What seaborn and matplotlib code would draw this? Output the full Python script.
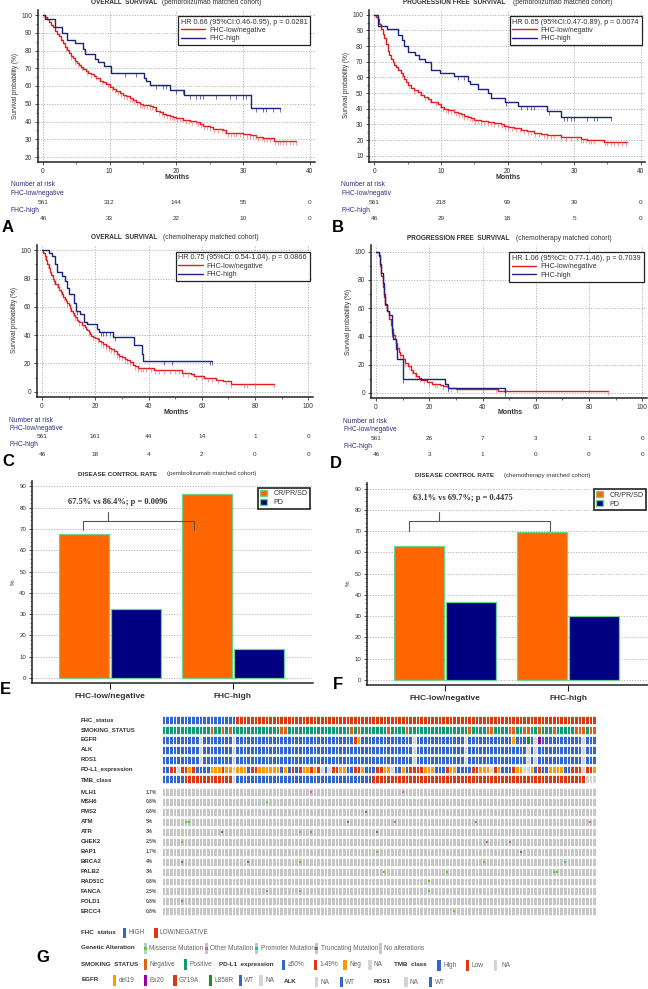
import numpy as np
import pandas as pd
import matplotlib
matplotlib.use("Agg")
import matplotlib.pyplot as plt
from matplotlib.colors import ListedColormap
from matplotlib.lines import Line2D
from matplotlib.patches import Patch, Rectangle
from matplotlib.ticker import MultipleLocator
import seaborn as sns

# ---------- survival data: (months, survival %) ----------
a_low = [(0,100),(.3,99),(.6,97.5),(.9,96),(1.2,94.5),(1.5,93),(1.8,91),(2.1,89.5),(2.4,88),(2.7,86),(3,84),(3.3,82),(3.6,80.5),(3.9,78.5),(4.2,77),(4.5,75.5),(4.8,74),(5.1,73),(5.4,72),(5.7,70.5),(6,69.5),(6.4,68.5),(6.8,67.5),(7.2,66.5),(7.6,65.5),(8,64.5),(8.5,63),(9,62),(9.5,61),(10,59.5),(10.5,58.5),(11,57),(11.5,56),(12,55),(12.5,54.5),(13,53.5),(13.5,52),(14,51),(14.5,50),(15,49.5),(16,48.8),(16.5,48),(17,46),(17.5,45.5),(18,44.5),(18.5,43.7),(19,43),(19.5,42.5),(20,42),(21,41),(22,40.5),(23,39.5),(23.5,38.5),(24,37.5),(25,37),(25.5,36),(26,35.5),(27,35),(27.5,33.5),(30,33),(31,32.5),(32,31),(33,30.5),(34.7,29),(38,29)]
a_low_c = [3.5,4.2,4.8,5.3,5.9,6.6,7.2,7.9,8.8,9.7,10.3,10.8,11.2,11.7,12.2,12.6,13,13.3,13.7,14.1,14.5,14.9,15.2,15.6,16,16.3,16.8,17.4,17.8,18.2,18.6,19,19.4,19.7,20.1,20.5,20.9,21.4,21.9,22.4,22.9,23.3,23.7,24.1,24.6,25.1,25.6,26.2,26.8,27.3,27.8,28.2,28.6,29,29.5,30,30.6,31.1,31.5,31.9,32.3,32.8,33.2,33.6,34,34.8,35.2,35.6,36,36.5,37,37.5,38]
a_high = [(0,100),(.3,97.5),(1.8,93),(2.8,89.6),(3.6,86),(4.8,84),(6,81),(6.3,78),(7.8,75),(8.2,73.5),(9.2,71),(10.2,67.5),(15.1,64.5),(15.4,63),(16,60.5),(19,57.5),(21.2,55),(31.2,47.5),(35.5,47.5)]
a_high_c = [12.3,14,17,18,18.5,20,21,22,23,23.5,24,26,28,29,30,30.5,32,33,33.5,34.5,35.5]

b_low = [(0,100),(.25,98.5),(.5,97),(.75,94),(1,91),(1.25,88),(1.5,85),(1.75,81),(2,77),(2.25,74.5),(2.5,72),(2.75,70),(3,68),(3.25,66.5),(3.5,65),(4,63),(4.25,61),(4.5,59),(4.75,57),(5,55),(5.5,53.5),(6,52),(6.5,50.5),(7,49),(7.5,47.5),(8,46),(8.5,44),(9.5,43),(10,41),(10.5,40),(11,39),(12,38),(12.5,37),(13,36.5),(13.5,35.5),(14,35),(14.5,34),(15,33),(16,32),(17,31.2),(18,31),(19,30),(19.5,29.2),(20,28.5),(21,27.5),(22,26.5),(23,25.5),(24,24.5),(25,24),(26,23),(28,22),(30,21.8),(31,20.5),(32,20),(34.5,18.5),(38,18.5)]
b_low_c = [4.2,5.2,6,6.8,7.6,8.4,9.2,9.8,10.3,10.7,11.1,11.5,11.9,12.3,12.7,13.1,13.5,13.9,14.3,14.7,15.1,15.6,16,16.5,17,17.5,18,18.6,19.1,19.6,20.1,20.7,21.3,21.9,22.5,23.1,23.6,24.2,24.7,25.5,26,26.5,27,28,28.8,29.5,30.5,31,31.4,31.8,32.2,32.6,33,34.6,35,35.5,36,36.6,37.2,37.8]
b_high = [(0,100),(.6,93),(1.95,91),(3.5,87),(4.1,84),(4.4,80),(5,76),(6.1,74),(6.7,71.5),(7.6,69.5),(8.5,65),(9.8,63),(12,61),(14,58),(14.4,55.5),(15.6,52.5),(17.1,50),(17.5,47),(19.6,44.5),(21.6,41.5),(26,38.7),(28.1,34.5),(35.6,34.5)]
b_high_c = [12.5,13.5,19.7,22,23,23.5,24,26.2,28.5,29,29.5,30,32,33,33.5,35.6]

c_low = [(0,100),(.5,98),(1,96),(1.5,93),(2,90),(2.5,87.5),(3,85),(3.5,82.5),(4,80),(4.5,78),(5,76),(6,74),(6.5,72),(7,70.5),(7.5,69),(8,67),(8.5,65.5),(9,64),(9.5,62.5),(10,61),(10.5,59),(11,57),(11.5,55.5),(12,54),(12.5,52.5),(13,51),(13.5,50),(14,49),(15,47),(16,45.5),(16.5,44.5),(17,43.5),(17.5,42),(18,41),(18.5,39.5),(19,38.5),(20,38),(21,37),(21.5,36),(22,35),(23,33.5),(24,32.5),(25,31),(26,30),(27,28.5),(28,27),(29,25.5),(30,24.5),(31,23),(32,22.5),(33,21),(34,19),(35,18),(36,17),(40,16.5),(42,15.5),(44,15),(52.5,13.5),(56,12.5),(57,11),(61,9.5),(65.5,8),(68,7.3),(71,5.3),(87,5.3)]
c_low_c = [1,2.4,4.5,5.5,6.3,7,8.2,9.5,10.5,11.5,12.5,14,15.5,17.5,19,21,22,23,24,25,26,27,28,29,30,31,32,33,35,36,37,38,39,41,42.5,44,46,48,50,51.5,53,55,58,60,62.5,64,66,69,71,76,77,80,87]
c_high = [(0,100),(2.8,98),(3.6,96),(4.9,90),(5.8,85),(7.4,82),(8.6,78),(9.3,73),(10.3,69),(12,63),(12.8,57),(14.3,55),(15.8,49.5),(17,48),(20.8,44),(21.3,42),(26.8,39),(34.5,33),(37.4,27),(38,22),(64,22)]
c_high_c = [13,22,23,24,25.5,27.5,46,49,63,64]

d_low = [(0,100),(1,97),(1.5,90),(2,83),(2.5,75),(3,68),(3.5,62),(4,58),(5,52),(5.5,48),(6,45),(6.5,41),(7,38),(7.5,35),(8,32),(8.5,29),(9,27),(10,24),(11,21),(12,19),(13,16),(14,14),(15,12),(16,10.5),(17,9),(19,7.5),(21,6.5),(24,5.5),(25,4.5),(27,3.5),(30,2.7),(46,1.5),(87,1.5)]
d_low_c = [6.5,7.5,9,11,12.5,13.5,14.5,15.5,16.5,18,20,22,23,25,28,30.5,40,45,87]
d_high = [(0,100),(1,98),(1.5,91),(2,85),(2.5,78),(3,70),(3.5,63),(4,58),(5,55),(6,42),(6.5,38),(7.5,31),(8,24),(10,9.5),(26,6),(27,3),(48.5,0.3),(48.6,0.3)]
d_high_c = [6,10,27,48.5]

risk_a_low = [561, 312, 144, 55, 0]
risk_a_high = [46, 33, 22, 10, 0]
risk_b_low = [561, 218, 99, 39, 0]
risk_b_high = [46, 29, 18, 5, 0]
risk_c_low = [561, 161, 44, 14, 1, 0]
risk_c_high = [46, 18, 4, 2, 0, 0]
risk_d_low = [561, 26, 7, 3, 1, 0]
risk_d_high = [46, 3, 1, 0, 0, 0]

# ---------- bar data ----------
groups = ["FHC-low/negative", "FHC-high"]
responses = ["CR/PR/SD", "PD"]
e_crpr = [67.5, 86.4]
e_pd = [32.5, 13.6]
f_crpr = [63.1, 69.7]
f_pd = [36.9, 30.3]

# ---------- oncoprint data ----------
track_names = ["FHC_status", "SMOKING_STATUS", "EGFR", "ALK", "ROS1", "PD-L1_expression", "TMB_class"]
gene_names = ["MLH1", "MSH6", "PMS2", "ATM", "ATR", "CHEK2", "BAP1", "BRCA2", "PALB2", "RAD51C", "FANCA", "POLD1", "ERCC4"]
gene_pct = ["1.7%", "0.8%", "0.8%", "5%", "3%", "2.5%", "1.7%", "4%", "3%", "0.8%", "2.5%", "0.8%", "0.8%"]
n_samples = 118
smoking_neg = [13,16,18,32,33,51,53,61,66,83,88,89,94,95,98,99,102,106,112,113,114,116,117]
egfr_special = {10:"A",19:"A",68:"A",82:"A",101:"A",114:"A",52:"R",53:"O",95:"O",99:"G",102:"P"}
alk_na = [10,19,68,82,99,101,114]
ros1_na = [10,19,68,82,99,101,114]
pdl1 = ("BBRRARRNRBBBBNNNRNNANNNBRRNNNNNNBNBRBRNNRNRABARR"[:48]
        + "NNBBRRNBBBRRNNABBNBRRRRNNNBBBRNNBBBBRRNNNARNBBBRNNAANBRBBNNNNBBRRRARRN")
tmb = "B"*6 + "R"*13 + "A" + "B"*37 + "R"*58 + "A"*3
missense = {"MSH6":[28],"ATM":[6,7],"ATR":[37],"CHEK2":[5],"BAP1":[58],"BRCA2":[37,87],"PALB2":[60,77,106,107],"RAD51C":[72],"FANCA":[37,72],"ERCC4":[79]}
other = {"MLH1":[40,65],"ATM":[63,85,116],"ATR":[40],"CHEK2":[88,94],"FANCA":[28],"POLD1":[5]}
promoter = {"BRCA2":[109]}
truncating = {"PMS2":[55],"ATM":[50],"ATR":[16,58],"BAP1":[97],"BRCA2":[5,23]}

RED, BLUE = "#e41a1c", "#1a237e"
W, H = 648, 989
sns.set_theme(style="white")
plt.rcParams["font.family"] = ["Liberation Sans", "DejaVu Sans"]
plt.rcParams["axes.linewidth"] = 1.0
fig = plt.figure(figsize=(W/100, H/100), dpi=100, facecolor="white")
TXT = "#333333"

def px_axes(l, t, r, b):
    return fig.add_axes([l/W, 1-b/H, (r-l)/W, (b-t)/H])

ov = fig.add_axes([0, 0, 1, 1], zorder=20)
ov.set_xlim(0, W); ov.set_ylim(H, 0); ov.axis("off"); ov.patch.set_alpha(0)

def T(x, y, s, size=4.6, weight="normal", color=TXT, ha="left", **kw):
    ov.text(x, y, s, fontsize=size, fontweight=weight, color=color, ha=ha, va="center", **kw)

def step_at(t, s, c):
    t = np.asarray(t); s = np.asarray(s)
    return s[np.clip(np.searchsorted(t, c, side="right")-1, 0, len(s)-1)]

def survival(box, xcal, ycal, xmax, xstep, ymajor, yminor, low, high, labels, hr, legbox,
             risk_low, risk_high, risk_y, lab_x, title, title_x, title_x2, title_y,
             months_y, months_x, ylab_x, ylab_y, letter):
    l, t, r, b = box
    ax = px_axes(l, t, r, b)
    x0, x1 = xcal; (yv1, ypx1), (yv2, ypx2) = ycal
    kx = xmax/(x1-x0); ky = (yv1-yv2)/(ypx2-ypx1)
    ax.set_xlim((l-x0)*kx, (r-x0)*kx)
    ax.set_ylim(yv1-(b-ypx1)*ky, yv1+(ypx1-t)*ky)
    for (pts, cc), col, lab in zip((low, high), (RED, BLUE), labels):
        tt, ss = map(np.asarray, zip(*pts))
        sns.lineplot(x=tt, y=ss, ax=ax, color=col, lw=1.0, drawstyle="steps-post",
                     estimator=None, errorbar=None, label=lab, legend=False)
        ax.plot(cc, step_at(tt, ss, np.asarray(cc)), ls="none", marker=3, ms=2.6, mew=0.45,
                color="#f06a6a" if col == RED else col)
    sns.despine(ax=ax)
    for s in ("left", "bottom"):
        ax.spines[s].set_color("#222222"); ax.spines[s].set_linewidth(1.1)
    ax.xaxis.set_major_locator(MultipleLocator(xstep))
    ax.xaxis.set_minor_locator(MultipleLocator(xstep/2))
    ax.yaxis.set_major_locator(MultipleLocator(ymajor))
    ax.yaxis.set_minor_locator(MultipleLocator(yminor))
    ax.grid(True, which="major", color="#a0a0a0", lw=0.55, ls=(0, (1.5, 2)))
    ax.tick_params(axis="both", which="major", length=2.5, width=0.6, labelsize=4.7,
                   colors=TXT, pad=1.5, bottom=True, left=True)
    ax.tick_params(axis="both", which="minor", length=1.5, width=0.5, bottom=True, left=True, color=TXT)
    ax.set_xlabel(""); ax.set_ylabel("")
    handles = [Line2D([], [], color=RED, lw=1.0), Line2D([], [], color=BLUE, lw=1.0)]
    leg = ax.legend(handles, labels, title=hr, title_fontsize=5.2, fontsize=5.1, loc="upper left",
                    bbox_to_anchor=(legbox[0]/W, 1-legbox[1]/H), bbox_transform=fig.transFigure,
                    borderaxespad=0, fancybox=False, framealpha=1, edgecolor="#222222",
                    alignment="left", labelcolor=TXT, handlelength=3.4, handletextpad=0.6,
                    labelspacing=0.18, borderpad=0.42)
    leg.get_frame().set_linewidth(0.9)
    leg.get_title().set_color(TXT)
    leg.set_zorder(10)
    # number at risk table
    ticks = [xstep*i for i in range(len(risk_low))]
    T(lab_x, risk_y[0], "Number at risk", size=4.9, color="#303080")
    T(lab_x, risk_y[1], labels[0], size=4.9, color="#303080")
    T(lab_x, risk_y[3], "FHC-high", size=4.9, color="#303080")
    for tk, a, c in zip(ticks, risk_low, risk_high):
        T(x0+tk/kx, risk_y[2], str(a), ha="center")
        T(x0+tk/kx, risk_y[4], str(c), ha="center")
    T(title_x, title_y, title[0], size=4.7, weight="bold")
    T(title_x2, title_y, title[1], size=4.9)
    T(months_x, months_y, "Months", size=5, weight="bold", ha="center")
    T(ylab_x, ylab_y, "Survival probability (%)", size=4.7, ha="center", rotation=90)
    T(letter[1], letter[2], letter[0], size=12, weight="bold", color="black")
    return ax

labs = ["FHC-low/negative", "FHC-high"]
survival((37.7, 10, 315, 162.3), (43, 309.5), ((100, 15), (20, 157)), 40, 10, 10, 5,
         (a_low, a_low_c), (a_high, a_high_c), labs,
         "HR 0.66 (95%CI:0.46-0.95), p = 0.0281", (177.7, 15.7), risk_a_low, risk_a_high,
         (185, 193.3, 202, 210, 218.7), 10.7, ("OVERALL  SURVIVAL", "(pembrolizumab matched cohort)"),
         90.7, 162.3, 3, 177.3, 176.7, 15.7, 85.7, ("A", 2, 228))
survival((369, 10, 645, 162.3), (374.3, 640.7), ((100, 14.7), (10, 155.7)), 40, 10, 10, 5,
         (b_low, b_low_c), (b_high, b_high_c), ["FHC-low/negativ", "FHC-high"],
         "HR 0.65 (95%CI:0.47-0.89), p = 0.0074", (509.5, 15.7), risk_b_low, risk_b_high,
         (185, 193.3, 202, 210, 218.7), 341, ("PROGRESSION FREE  SURVIVAL", "(pembrolizumab matched cohort)"),
         402.7, 513.3, 3, 177.3, 508, 346.7, 85, ("B", 332, 228))
survival((36.7, 245, 313, 397.3), (42, 308.3), ((100, 250.3), (0, 391.7)), 100, 20, 20, 10,
         (c_low, c_low_c), (c_high, c_high_c), labs,
         "HR 0.75 (95%CI: 0.54-1.04), p = 0.0866", (175.5, 251.5), risk_c_low, risk_c_high,
         (420, 428, 437, 445, 454), 9, ("OVERALL  SURVIVAL", "(chemotherapy matched cohort)"),
         90.7, 163.3, 237.7, 412, 176, 14.3, 320, ("C", 2, 461))
survival((370.7, 245, 646.7, 398.3), (376, 642.3), ((100, 251.7), (0, 392.7)), 100, 20, 20, 10,
         (d_low, d_low_c), (d_high, d_high_c), labs,
         "HR 1.06 (95%CI: 0.77-1.46), p = 0.7039", (509, 252), risk_d_low, risk_d_high,
         (421.7, 429.7, 438.3, 446.7, 455), 343, ("PROGRESSION FREE  SURVIVAL", "(chemotherapy matched cohort)"),
         406.7, 515.7, 239, 413, 510, 349, 321.7, ("D", 330, 464))


def bars(box, tick_px, ycal, crpr, pd_, legpos, txt, txtpos, bracket, title, tx, tx2, ty, xl_y, ylab, letter):
    l, t, r, b = box
    ax = px_axes(l, t, r, b)
    df = pd.DataFrame({"group": groups*2,
                       "response": [responses[0]]*2 + [responses[1]]*2,
                       "pct": list(crpr)+list(pd_)})
    sns.barplot(data=df, x="group", y="pct", hue="response", ax=ax, width=0.84, gap=0.04,
                palette=["#ff6600", "#000080"], edgecolor="#6fcf8f", linewidth=0.9,
                saturation=1, legend=False, zorder=3)
    px_per = tick_px[1]-tick_px[0]
    ax.set_xlim((l-tick_px[0])/px_per, (r-tick_px[0])/px_per)
    (y0px, y90px) = ycal
    ky = 90/(y0px-y90px)
    ax.set_ylim(-(b-y0px)*ky, (y0px-t)*ky)
    sns.despine(ax=ax)
    for s in ("left", "bottom"):
        ax.spines[s].set_color("#222222"); ax.spines[s].set_linewidth(1.1)
    ax.yaxis.set_major_locator(MultipleLocator(10))
    ax.yaxis.set_minor_locator(MultipleLocator(2))
    ax.grid(True, axis="y", which="major", color="#a0a0a0", lw=0.55, ls=(0, (1.5, 2)))
    ax.set_axisbelow(True)
    ax.tick_params(axis="y", which="major", length=2.5, width=0.6, labelsize=4.4, colors=TXT, pad=1.5, left=True)
    ax.tick_params(axis="y", which="minor", length=1.3, width=0.4, left=True, color=TXT)
    ax.tick_params(axis="x", length=4, width=0.8, color="#222222", labelsize=6, pad=3, bottom=True, labelcolor=TXT)
    for lb in ax.get_xticklabels():
        lb.set_fontweight("bold")
    ax.set_xlabel(""); ax.set_ylabel("")
    leg = ax.legend([Patch(facecolor="#ff6600", edgecolor="#6fcf8f"), Patch(facecolor="#000080", edgecolor="#6fcf8f")],
                    responses, fontsize=5.1, loc="upper left", bbox_to_anchor=(legpos[0]/W, 1-legpos[1]/H),
                    bbox_transform=fig.transFigure, borderaxespad=0, fancybox=False, framealpha=1,
                    edgecolor="#222222", labelcolor=TXT, handlelength=1.0, handleheight=0.95,
                    handletextpad=0.9, labelspacing=0.2, borderpad=0.32)
    leg.get_frame().set_linewidth(1.2)
    leg.set_zorder(10)
    xl, xr, ybot, ytop, xs, ystem = bracket
    ax.plot([xl, xl, xr, xr], [ybot, ytop, ytop, ybot], color="#555555", lw=0.8, zorder=5, clip_on=False)
    ax.plot([xs, xs], [ytop, ystem], color="#555555", lw=0.8, zorder=5)
    T(txtpos[0], txtpos[1], txt, size=6, weight="bold", family="Liberation Serif", ha="center")
    T(tx, ty, title[0], size=4.6, weight="bold")
    T(tx2, ty, title[1], size=4.4)
    T(ylab[0], ylab[1], "%", size=4.5, ha="center", rotation=90)
    T(letter[1], letter[2], letter[0], size=12, weight="bold", color="black")

bars((31.8, 480.7, 312.8, 683.3), (110, 233), (678, 486.3), e_crpr, e_pd, (258, 487.7),
     "67.5% vs 86.4%; p = 0.0096", (117.8, 501.7), (-0.22, 0.68, 69.5, 73.9, -0.02, 78.1),
     ("DISEASE CONTROL RATE", "(pembrolizumab matched cohort)"), 78.5, 167, 474, 693.3, (13.6, 581.7), ("E", 0, 689))
bars((367, 482.7, 648, 685.3), (445, 568), (680, 488.7), f_crpr, f_pd, (594, 489),
     "63.1% vs 69.7%; p = 0.4475", (463, 498.3), (-0.295, 0.85, 70, 74.8, -0.046, 79.2),
     ("DISEASE CONTROL RATE", "(chemotherapy matched cohort)"), 415, 504, 475.7, 695, (348, 583.3), ("F", 332.5, 684.3))

# ---------- oncoprint ----------
code = {"B": 0, "R": 1, "T": 2, "S": 3, "N": 4, "A": 5, "G": 6, "P": 7, "O": 8}
cmap = ListedColormap(["#3366cc", "#dc3912", "#139a75", "#dd6216", "#ff9900", "#d4d4d4", "#109618", "#990099", "#ff9900"])
fhc = "B"*20 + "R"*98
smoke = "".join("S" if i in smoking_neg else "T" for i in range(n_samples))
egfr = "".join(egfr_special.get(i, "B") for i in range(n_samples))
alk = "".join("A" if i in alk_na else "B" for i in range(n_samples))
ros1 = "".join("A" if i in ros1_na else "B" for i in range(n_samples))
tracks = [fhc, smoke, egfr, alk, ros1, pdl1, tmb]
mat = np.array([[code[c] for c in row] for row in tracks])

ax1 = px_axes(161.7, 715.03, 596, 784.3)
sns.heatmap(mat, ax=ax1, cmap=cmap, vmin=-0.5, vmax=8.5, cbar=False, linewidths=0.55, linecolor="white",
            xticklabels=False, yticklabels=False)
ax1.hlines(np.arange(len(tracks)+1), 0, n_samples, color="white", lw=1.9)

ax2 = px_axes(161.7, 787.03, 596, 916.3)
sns.heatmap(np.zeros((len(gene_names), n_samples)), ax=ax2, cmap=ListedColormap(["#c6c6c6"]), cbar=False,
            linewidths=0.55, linecolor="white", xticklabels=False, yticklabels=False)
ax2.hlines(np.arange(len(gene_names)+1), 0, n_samples, color="white", lw=1.9)
for muts, col in ((missense, "#4fd619"), (other, "#e052c8"), (promoter, "#17becf"), (truncating, "#667788")):
    xs, ys = [], []
    for g, cols in muts.items():
        for c in cols:
            xs.append(c+0.5); ys.append(gene_names.index(g)+0.5)
    ax2.scatter(xs, ys, marker="s", s=3.2, color=col, linewidths=0, zorder=5)

for i, n in enumerate(track_names):
    T(80.7, 720+i*9.94, n, size=4.3, weight="bold")
for i, (n, p) in enumerate(zip(gene_names, gene_pct)):
    T(80.7, 792+i*9.94, n, size=4.3, weight="bold")
    T(146, 792+i*9.94, p, size=3.5, weight="bold", color="#555555")

# ---------- oncoprint key ----------
LG = "#666666"
def key(x, yc, color, text, tx, marker=None, h=10.5, w=3.2):
    ov.add_patch(Rectangle((x, yc-h/2), w, h, facecolor=color, edgecolor="none"))
    if marker:
        ov.add_patch(Rectangle((x, yc-1.6), w, 3.2, facecolor=marker, edgecolor="none"))
    T(tx, yc, text, size=4.7, color=LG)

T(80.7, 932.7, "FHC  status", size=4.5, weight="bold")
key(123, 933, "#3366cc", "HIGH", 128.3)
key(154.3, 933, "#dc3912", "LOW/NEGATIVE", 159.7)
T(80.7, 947.7, "Genetic Alteration", size=4.5, weight="bold")
GR = "#c6c6c6"
key(143.7, 948.5, GR, "Missense Mutation", 149.3, marker="#4fd619")
key(204.7, 948.5, GR, "Other Mutation", 210.3, marker="#e052c8")
key(255, 948.5, GR, "Promoter Mutation", 260.7, marker="#17becf")
key(314.7, 948.5, GR, "Truncating Mutation", 320.7, marker="#667788")
key(378.7, 948.5, GR, "No alterations", 384)
T(80.7, 964, "SMOKING  STATUS", size=4.5, weight="bold")
key(143.7, 964.7, "#dd6216", "Negative", 149.3)
key(183.7, 964.7, "#139a75", "Positive", 189.7)
T(219, 964.7, "PD-L1  expression", size=4.5, weight="bold")
key(282, 965, "#3366cc", "≥50%", 288)
key(313.7, 965, "#dc3912", "1-49%", 319.3)
key(343.3, 965, "#ff9900", "Neg", 349)
key(368.3, 965, "#d4d4d4", "NA", 374)
T(394.3, 964.7, "TMB  class", size=4.5, weight="bold")
key(437.3, 965.5, "#3366cc", "High", 443)
key(466, 965.5, "#dc3912", "Low", 471.7)
key(493.7, 965.5, "#d4d4d4", "NA", 501)
T(81.7, 979.7, "EGFR", size=4.5, weight="bold")
key(112.7, 980.3, "#ff9900", "del19", 118.3)
key(143.7, 980.3, "#990099", "Ex20", 149.3)
key(173.3, 980.3, "#dc3912", "G719A", 179)
key(208.7, 980.3, "#109618", "L858R", 214.7)
key(238.7, 980.3, "#3366cc", "WT", 244.3)
key(259.3, 980.3, "#d4d4d4", "NA", 265.3)
T(284, 981.3, "ALK", size=4.5, weight="bold")
key(315, 982, "#d4d4d4", "NA", 320.7)
key(339.7, 982, "#3366cc", "WT", 345.3)
T(373.3, 981.3, "ROS1", size=4.5, weight="bold")
key(404.3, 982, "#d4d4d4", "NA", 410)
key(429, 982, "#3366cc", "WT", 434.7)
T(36.7, 957.7, "G", size=12, weight="bold", color="black")

fig.savefig("out.png", dpi=100, facecolor="white")
